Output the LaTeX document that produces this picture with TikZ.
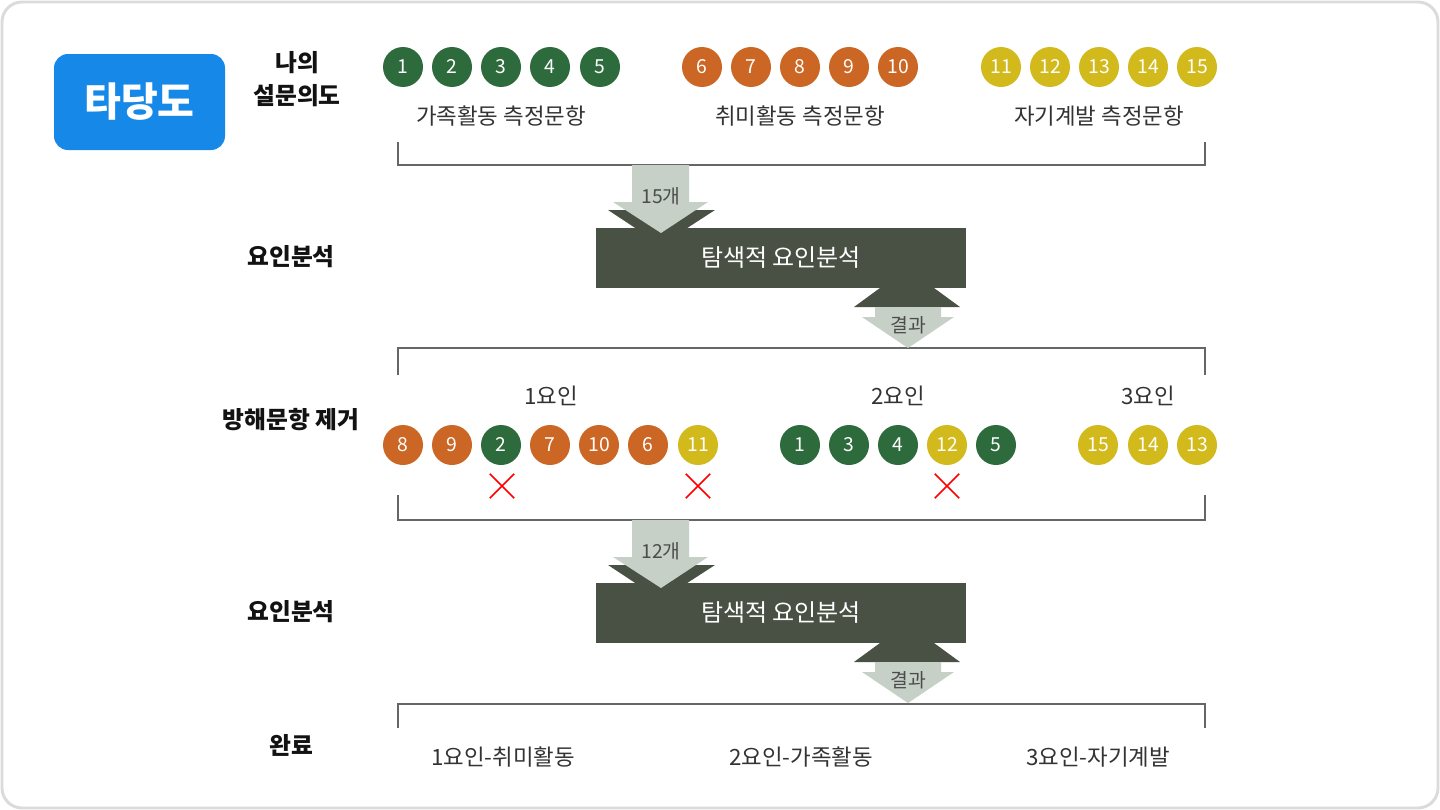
\documentclass[tikz,border=0pt]{standalone}
\usepackage{fontspec}
\setmainfont{Noto Sans CJK KR}
\usetikzlibrary{shapes.misc}

\definecolor{itemgreen}{HTML}{2D6A3C}
\definecolor{itemorange}{HTML}{CC6624}
\definecolor{itemyellow}{HTML}{D2B91C}
\definecolor{boxdark}{HTML}{485143}
\definecolor{flowgray}{HTML}{C6D0C7}
\definecolor{badgeblue}{HTML}{1689E8}
\definecolor{txtgray}{HTML}{333333}

\tikzset{every picture/.style={line width=0.75pt}}
\tikzset{
  ball/.style={circle, minimum size=30pt, inner sep=0pt, text height=10.4pt, text depth=0pt, text=white, font=\fontsize{14.5}{14.5}\selectfont},
  ballg/.style={ball, fill=itemgreen},
  ballo/.style={ball, fill=itemorange},
  bally/.style={ball, fill=itemyellow},
  rowlabel/.style={font=\bfseries\fontsize{17.8}{24.5}\selectfont, text=black!93, align=center},
  grouplabel/.style={font=\fontsize{16.8}{16.8}\selectfont, text=txtgray},
  bracket/.style={draw=black!60, line width=1.5pt},
  fabox/.style={fill=boxdark, minimum width=277.5pt, minimum height=45pt, inner sep=0pt, text=white, font=\fontsize{18}{18}\selectfont},
  flowtext/.style={font=\fontsize{14.5}{14.5}\selectfont, text=black!70},
  xmark/.style={cross out, draw=red, line width=1.3pt, minimum size=17pt, inner sep=0pt}
}

\begin{document}
\begin{tikzpicture}[x=0.75pt,y=0.75pt,yscale=-1]

\useasboundingbox (0,0) rectangle (1440,810);
\draw  [draw=black!14, line width=2.2pt, fill=white, rounded corners=15pt]  (2,2) rectangle (1438,808) ;

\node [fill=badgeblue, rounded corners=10.5pt, minimum width=128.25pt, minimum height=72pt, text=white, font=\bfseries\fontsize{30}{30}\selectfont] (badge) at (139.5,102) {타당도};

% row titles
\node [rowlabel] (intent) at (297,79) {나의\\설문의도};
\node [rowlabel] (efa1lbl) at (291,257) {요인분석};
\node [rowlabel] (droplbl) at (291,420) {방해문항 제거};
\node [rowlabel] (efa2lbl) at (291,612) {요인분석};
\node [rowlabel] (donelbl) at (291,745) {완료};

% items by intent
\node [ballg] (q1) at (403,67) {1};
\node [ballg] (q2) at (452,67) {2};
\node [ballg] (q3) at (501,67) {3};
\node [ballg] (q4) at (550,67) {4};
\node [ballg] (q5) at (600,67) {5};
\node [ballo] (q6) at (702,67) {6};
\node [ballo] (q7) at (751,67) {7};
\node [ballo] (q8) at (800,67) {8};
\node [ballo] (q9) at (849,67) {9};
\node [ballo] (q10) at (898,67) {10};
\node [bally] (q11) at (1001,67) {11};
\node [bally] (q12) at (1050,67) {12};
\node [bally] (q13) at (1099,67) {13};
\node [bally] (q14) at (1148,67) {14};
\node [bally] (q15) at (1197,67) {15};

\node [grouplabel] (family) at (501,116) {가족활동 측정문항};
\node [grouplabel] (hobby) at (800,116) {취미활동 측정문항};
\node [grouplabel] (selfdev) at (1099,116) {자기계발 측정문항};

% brackets
\draw  [bracket]  (398,142) -- (398,165) -- (1205,165) -- (1205,142) ;
\draw  [bracket]  (398,375) -- (398,348) -- (1205,348) -- (1205,375) ;
\draw  [bracket]  (398,495) -- (398,520) -- (1205,520) -- (1205,495) ;
\draw  [bracket]  (398,728) -- (398,704) -- (1205,704) -- (1205,728) ;

% first analysis
\fill  [boxdark]  (608,210) -- (715,210) -- (661,245) -- cycle ;
\node [fabox] (efa1) at (781,258) {탐색적 요인분석};
\fill  [flowgray]  (632,165) -- (689,165) -- (689,202) -- (708,202) -- (661,233) -- (613,202) -- (632,202) -- cycle ;
\node [flowtext] (cnt15) at (661,196) {15개};
\fill  [boxdark]  (880,288) -- (934,288) -- (960,307) -- (854,307) -- cycle ;
\fill  [flowgray]  (875,307) -- (941,307) -- (941,317) -- (954,317) -- (908,348) -- (862,317) -- (875,317) -- cycle ;
\node [flowtext] (res1) at (908,325) {결과};

% factors
\node [grouplabel] (fac1) at (551,396) {1요인};
\node [grouplabel] (fac2) at (898,396) {2요인};
\node [grouplabel] (fac3) at (1148,396) {3요인};

\node [ballo] (f1q8) at (403,445) {8};
\node [ballo] (f1q9) at (452,445) {9};
\node [ballg] (f1q2) at (501,445) {2};
\node [ballo] (f1q7) at (550,445) {7};
\node [ballo] (f1q10) at (599,445) {10};
\node [ballo] (f1q6) at (648,445) {6};
\node [bally] (f1q11) at (698,445) {11};
\node [ballg] (f2q1) at (800,445) {1};
\node [ballg] (f2q3) at (849,445) {3};
\node [ballg] (f2q4) at (898,445) {4};
\node [bally] (f2q12) at (947,445) {12};
\node [ballg] (f2q5) at (996,445) {5};
\node [bally] (f3q15) at (1098,445) {15};
\node [bally] (f3q14) at (1148,445) {14};
\node [bally] (f3q13) at (1197,445) {13};

\node [xmark] (cut2) at (502,486) {};
\node [xmark] (cut11) at (698,486) {};
\node [xmark] (cut12) at (947,486) {};

% second analysis
\fill  [boxdark]  (608,565) -- (715,565) -- (661,600) -- cycle ;
\node [fabox] (efa2) at (781,613) {탐색적 요인분석};
\fill  [flowgray]  (632,520) -- (689,520) -- (689,557) -- (708,557) -- (661,588) -- (613,557) -- (632,557) -- cycle ;
\node [flowtext] (cnt12) at (661,551) {12개};
\fill  [boxdark]  (880,643) -- (934,643) -- (960,662) -- (854,662) -- cycle ;
\fill  [flowgray]  (875,662) -- (941,662) -- (941,672) -- (954,672) -- (908,703) -- (862,672) -- (875,672) -- cycle ;
\node [flowtext] (res2) at (908,680) {결과};

% result
\node [grouplabel] (out1) at (503,757) {1요인-취미활동};
\node [grouplabel] (out2) at (801,757) {2요인-가족활동};
\node [grouplabel] (out3) at (1098,757) {3요인-자기계발};

\end{tikzpicture}
\end{document}
